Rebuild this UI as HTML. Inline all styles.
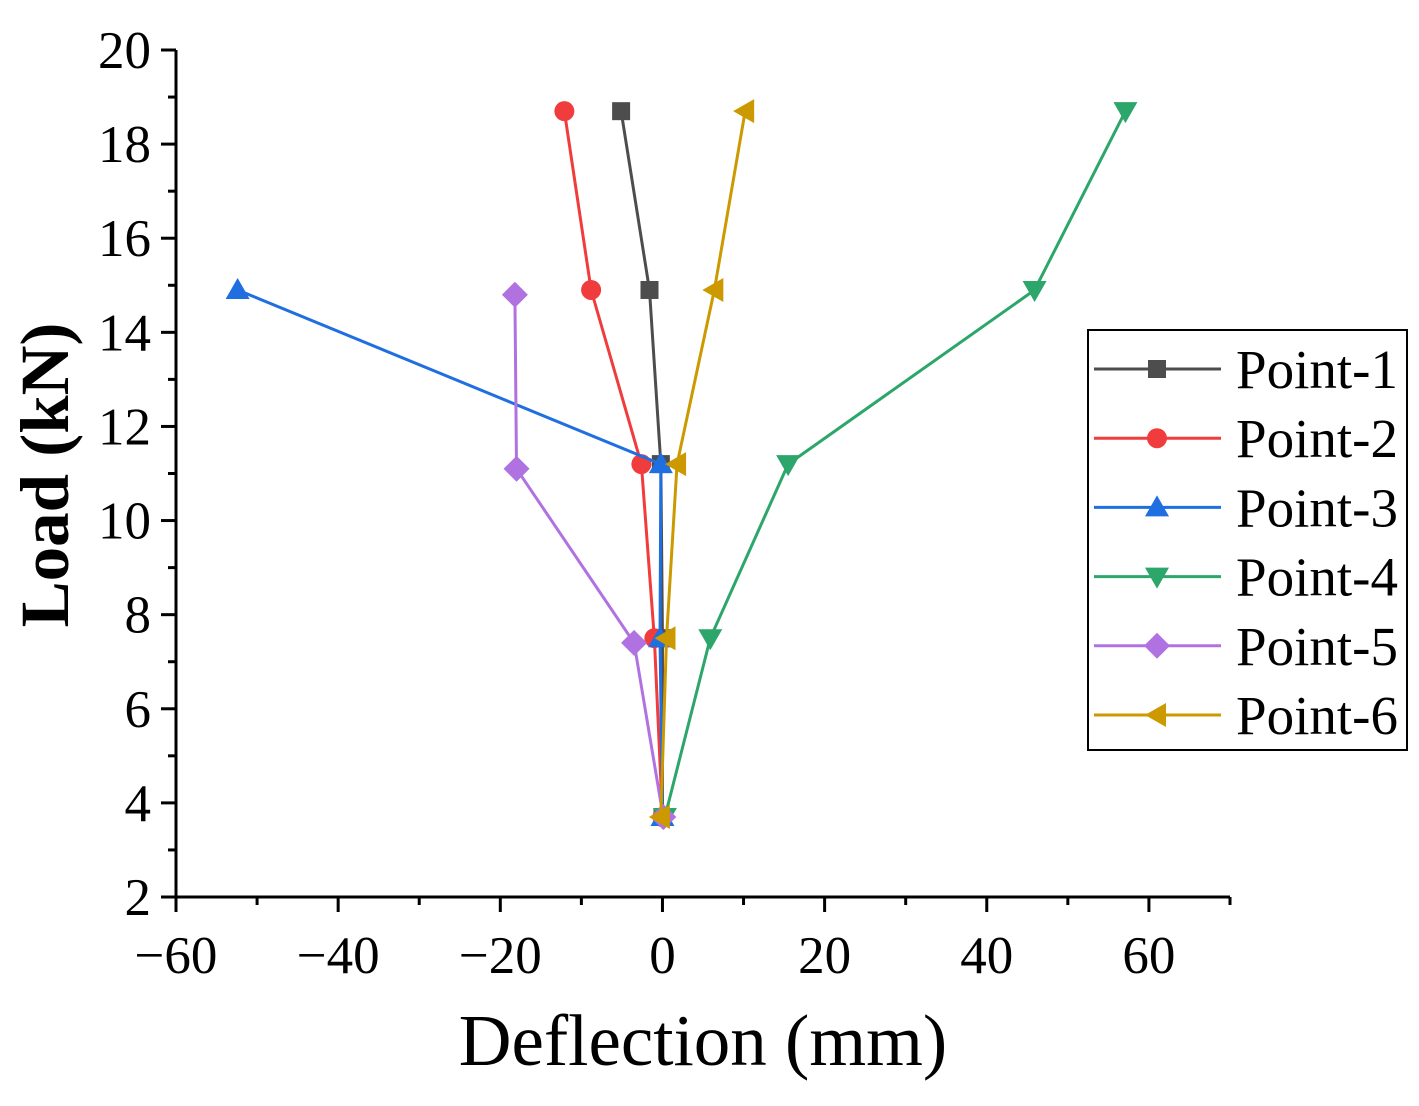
<!DOCTYPE html>
<html><head><meta charset="utf-8"><style>
html,body{margin:0;padding:0;background:#fff}
svg{display:block}
text{font-family:"Liberation Serif",serif;fill:#000}
</style></head><body>
<svg id="chart" width="1419" height="1106" viewBox="0 0 1419 1106">
<g id="grid"></g>
<g id="series"></g>
<g id="axes"></g>
<text x="703" y="1065" font-size="73" text-anchor="middle">Deflection (mm)</text>
<text transform="translate(68,475) rotate(-90)" font-size="69" font-weight="bold" text-anchor="middle">Load (kN)</text>
<rect x="1088" y="330" width="319" height="420" fill="#fff" stroke="#000" stroke-width="2"/>
<g id="legend"></g>
</svg>
<script>
const seriesNames=["Point-1","Point-2","Point-3","Point-4","Point-5","Point-6"];
const loads=[3.7,7.5,11.2,14.9,18.7];
const p1=[0,0,-0.2,-1.6,-5.1];
const p2=[0,-1,-2.6,-8.8,-12.1];
const p3=[0,-0.3,-0.2,-52.4];
const p4=[0.3,5.9,15.5,45.9,57.1];
const p5=[0.1,-3.5,-18,-18.2];
const p6=[-0.2,0.5,1.8,6.4,10.2];
const xTicks=[-60,-40,-20,0,20,40,60];
const yTicks=[2,4,6,8,10,12,14,16,18,20];
const NS="http://www.w3.org/2000/svg";
const colors=["#4d4d4d","#f03c3c","#1f6fe0","#2ca66a","#b072e0","#cc9900"];
const shapes=["square","circle","up","down","diamond","left"];
const xs=[p1,p2,p3,p4,p5,p6];
const y5load=[3.7,7.4,11.1,14.8];
const ysets=[loads,loads,loads,loads,y5load,loads];
const X0=176,X1=1230,Y0=897,Y1=50;
function sx(v){return X0+(v+60)/130*(X1-X0);}
function sy(v){return Y0-(v-2)/18*(Y0-Y1);}
function el(t,a,p){const e=document.createElementNS(NS,t);for(const k in a)e.setAttribute(k,a[k]);p.appendChild(e);return e;}
function marker(shape,x,y,c,p){
  let e;const r=9;
  if(shape==="square")e=el("rect",{x:x-r,y:y-r,width:2*r,height:2*r,fill:c},p);
  else if(shape==="circle")e=el("circle",{cx:x,cy:y,r:10,fill:c},p);
  else{let pts;
    if(shape==="up")pts=[[x,y-12],[x+12,y+9],[x-12,y+9]];
    else if(shape==="down")pts=[[x,y+12],[x+12,y-9],[x-12,y-9]];
    else if(shape==="diamond")pts=[[x,y-13],[x+13,y],[x,y+13],[x-13,y]];
    else pts=[[x-12,y],[x+9,y-12],[x+9,y+12]];
    e=el("polygon",{points:pts.map(q=>q.join(",")).join(" "),fill:c},p);}
  return e;
}
const sg=document.getElementById("series");
xs.forEach((arr,i)=>{
  const g=el("g",{},sg);
  
  
  const pts=arr.map((v,j)=>[sx(v),sy(ysets[i][j])]);
  const pl=el("polyline",{points:pts.map(q=>q.join(",")).join(" "),fill:"none",stroke:colors[i],"stroke-width":3},g);
  
  
  pts.forEach((q,j)=>{const m=marker(shapes[i],q[0],q[1],colors[i],g);
    
    });
});
const ax=document.getElementById("axes");
el("line",{x1:X0,y1:Y0,x2:X1,y2:Y0,stroke:"#000","stroke-width":3},ax);
el("line",{x1:X0,y1:Y0+1,x2:X0,y2:Y1,stroke:"#000","stroke-width":3},ax);
for(let v=-60;v<=70;v+=10){const x=sx(v);const major=xTicks.includes(v);
  el("line",{x1:x,y1:Y0,x2:x,y2:Y0+(major?15:8),stroke:"#000","stroke-width":3},ax);}
xTicks.forEach(v=>{const t=el("text",{x:sx(v),y:973,"font-size":53,"text-anchor":"middle"},ax);
  t.textContent=(v<0?"\u2212"+(-v):v);
  
  });
for(let v=2;v<=20;v+=1){const y=sy(v);const major=yTicks.includes(v);
  el("line",{x1:X0,y1:y,x2:X0-(major?15:8),y2:y,stroke:"#000","stroke-width":3},ax);}
yTicks.forEach(v=>{const t=el("text",{x:151,y:sy(v)+18,"font-size":53,"text-anchor":"end"},ax);
  t.textContent=v;
  
  });
const lg=document.getElementById("legend");
seriesNames.forEach((n,i)=>{const y=369+i*69.2;
  const g=el("g",{},lg);
  
  
  el("line",{x1:1094,y1:y,x2:1221,y2:y,stroke:colors[i],"stroke-width":3},g);
  marker(shapes[i],1157,y,colors[i],g);
  const t=el("text",{x:1236,y:y+19,"font-size":55},g);t.textContent=n;});
</script>
</body></html>
